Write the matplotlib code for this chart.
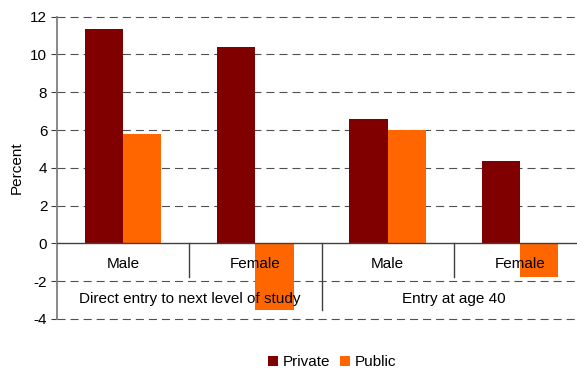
import matplotlib
matplotlib.use("Agg")
import matplotlib.pyplot as plt
from matplotlib.patches import Patch
import numpy as np

plt.rcParams['font.family'] = ['Liberation Sans', 'DejaVu Sans']
plt.rcParams['lines.scale_dashes'] = False

categories = ["Male", "Female", "Male", "Female"]
groups = ["Direct entry to next level of study", "Entry at age 40"]
private = [11.35, 10.4, 6.6, 4.35]
public = [5.8, -3.5, 6.0, -1.8]
yticks = [-4, -2, 0, 2, 4, 6, 8, 10, 12]

c_private = "#800000"
c_public = "#FF6600"
fs = 11

W, H = 577, 371
fig = plt.figure(figsize=(W / 100, H / 100), dpi=100)
left, right, top, bottom = 57, 577, 16.7, 319
ax = fig.add_axes([left / W, 1 - bottom / H, (right - left) / W, (bottom - top) / H])

x = np.arange(len(categories))
w = 0.29
ax.bar(x - w / 2, private, w, color=c_private, zorder=3)
ax.bar(x + w / 2, public, w, color=c_public, zorder=3)

ax.set_ylim(-4, 12)
ax.set_xlim(-0.5, 3.5 - 9 / 132)
ax.set_yticks(yticks)
ax.set_yticklabels([str(t) for t in yticks], fontsize=fs)
ax.set_xticks([])

# dashed horizontal gridlines
for t in yticks:
    if t == 0:
        continue
    ax.axhline(t, color="#505050", lw=0.8, dashes=(5.8, 3.6), zorder=1, clip_on=False)
ax.axhline(0, color="#404040", lw=1.0, zorder=4)

for s in ["top", "right", "bottom"]:
    ax.spines[s].set_visible(False)
ax.spines["left"].set_color("#808080")
ax.spines["left"].set_linewidth(1.3)
ax.tick_params(axis="y", direction="out", length=4, color="#404040", width=0.8, pad=3)

# category separators and labels
for sx in [0.5, 2.5]:
    ax.plot([sx, sx], [0, -1.8], color="#404040", lw=1.0, zorder=4, clip_on=False)
ax.plot([1.5, 1.5], [0, -3.5], color="#404040", lw=1.0, zorder=4, clip_on=False)
for xi, lab in zip(x, categories):
    ax.text(xi, -1.1, lab, ha="center", va="center", fontsize=fs, zorder=5)
for gi, g in enumerate(groups):
    ax.text(gi * 2 + 0.5, -2.95, g, ha="center", va="center", fontsize=fs, zorder=5,
            clip_on=False)

fig.text(17 / W, 1 - 168 / H, "Percent", rotation=90, ha="center", va="center",
         fontsize=fs)

handles = [Patch(facecolor=c_private, label="Private"),
           Patch(facecolor=c_public, label="Public")]
fig.legend(handles=handles, loc="center", bbox_to_anchor=(332 / W, 1 - 362 / H),
           ncol=2, frameon=False, fontsize=fs, handlelength=0.65, handleheight=0.65,
           handletextpad=0.35, columnspacing=0.6)

fig.savefig("out.png", dpi=100)
